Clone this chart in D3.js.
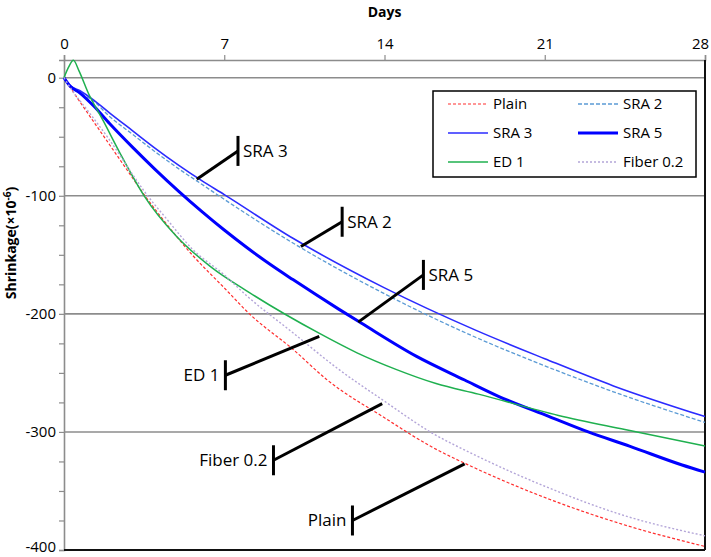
<!DOCTYPE html>
<html>
<head>
<meta charset="utf-8">
<script src="https://cdn.jsdelivr.net/npm/d3@7"></script>
<style>
  body { margin: 0; background: #fff; font-family: "Open Sans", sans-serif; }
  svg { display: block; }
  .tick-label { font-size: 15px; fill: #000; font-family: "Open Sans", sans-serif; }
  .title { font-size: 14px; font-weight: bold; fill: #000; }
  .note { font-size: 17px; fill: #000; }
  .legend text { font-size: 15px; fill: #000; }
</style>
</head>
<body>
<div id="chart"></div>
<script>
// x ticks (days) and y ticks (shrinkage)
var dayTicks = [0, 7, 14, 21, 28];
var valTicks = [0, -100, -200, -300, -400];

// series: [day, shrinkage x10^-6]
var plain = [[0,0],[0.4,-12],[1,-29],[2,-57],[3,-85],[3.5,-99],[4.2,-117],[5.6,-150],[7,-178],[8.1,-200],[10,-230],[11.5,-256],[14,-288],[16,-312],[18,-331],[21.2,-357],[24.7,-380],[28,-397]];
var sra2 = [[0,0],[0.3,-8],[0.7,-13],[1.3,-20],[2,-33],[3,-48],[4,-63],[5,-77],[6,-90],[7,-103],[10,-140],[14,-183],[18,-220],[21,-244],[24,-266],[28,-292]];
var sra3 = [[0,0],[0.3,-7],[0.7,-11],[1.3,-19],[2,-30],[3,-45],[4,-60],[5,-74],[6,-87],[7,-99],[10,-136],[14,-178],[18,-214],[21,-238],[24,-261],[28,-287]];
var sra5 = [[0,0],[0.26,-7],[0.7,-13],[1.3,-24],[2,-39],[3,-59],[4,-78],[5,-96],[6,-113],[7,-129],[8,-144],[9,-158],[10,-171],[12,-196],[13,-208],[15.4,-236],[17.5,-256],[19,-270],[21.2,-287],[22.9,-300],[24.7,-312],[27,-328],[28,-334]];
var ed1 = [[0,0],[0.2,9],[0.41,14.7],[0.65,6],[1.06,-13],[1.7,-36],[2.45,-64],[3.5,-100],[4.9,-134],[6.4,-160],[8.1,-182],[11.2,-217],[12.8,-233],[14.5,-247],[16.25,-259],[18.1,-268],[21.6,-286],[24.5,-298],[28,-312]];
var fiber = [[0,0],[0.4,-12],[1,-27],[2,-53],[3,-82],[3.5,-96],[4.5,-120],[5.6,-145],[7,-167],[8,-185],[10,-216],[12,-247],[14,-274],[16,-300],[18,-320],[21,-346],[24.5,-371],[28,-388]];

var seriesNames = ["Plain", "SRA 2", "SRA 3", "SRA 5", "ED 1", "Fiber 0.2"];
var seriesData = [plain, sra2, sra3, sra5, ed1, fiber];
var seriesColors = ["#ff2e2e", "#5b9bd5", "#2b2bff", "#0000ff", "#1fb04f", "#b3a5d8"];
var seriesWidths = [1.2, 1.3, 1.6, 3, 1.5, 1.4];
var seriesDash = ["3,2", "4,2", null, null, null, "2,2"];

// callouts: label, point on curve [day, val], bar position [day, val], side of text
var noteLabels = ["SRA 3", "SRA 2", "SRA 5", "ED 1", "Fiber 0.2", "Plain"];
var noteTips = [[5.8,-86], [10.35,-143], [12.85,-207], [11.15,-219], [13.9,-276], [17.5,-327]];
var noteBars = [[7.6,-62], [12.15,-122], [15.7,-167], [7.05,-252], [9.15,-324], [12.6,-375]];
var noteSide = ["right", "right", "right", "left", "left", "left"];

var width = 711, height = 557;
var svg = d3.select("#chart").append("svg")
    .attr("width", width)
    .attr("height", height);

var x = d3.scaleLinear().domain([0, 28]).range([64, 705]);
var y = d3.scaleLinear().domain([-400, 15]).range([550, 60]);

// horizontal grid
svg.append("g").selectAll("line").data(valTicks).enter().append("line")
    .attr("x1", x(0)).attr("x2", x(28))
    .attr("y1", function(d) { return y(d); }).attr("y2", function(d) { return y(d); })
    .attr("stroke", "#8c8c8c").attr("stroke-width", 1.6);

// top axis
var xAxisG = svg.append("g").attr("transform", "translate(0," + y(15) + ")")
    .call(d3.axisTop(x).tickValues(dayTicks).tickSize(5).tickPadding(6));
xAxisG.select(".domain").attr("stroke", "#8c8c8c").attr("stroke-width", 1.6);
xAxisG.selectAll(".tick line").attr("stroke", "#8c8c8c").attr("stroke-width", 1.2);
xAxisG.selectAll("text").attr("class", "tick-label")
    .attr("dx", function(d) { return d == 28 ? -5 : 0; });

// left axis with minor ticks
var minor = d3.range(-400, 1, 25);
var yAxisG = svg.append("g").attr("transform", "translate(" + x(0) + ",0)")
    .call(d3.axisLeft(y).tickValues(minor).tickSize(5).tickFormat(""));
yAxisG.select(".domain").attr("stroke", "#8c8c8c").attr("stroke-width", 1.6);
yAxisG.selectAll(".tick line").attr("stroke", "#8c8c8c").attr("stroke-width", 1.2);
svg.append("g").selectAll("text").data(valTicks).enter().append("text")
    .attr("class", "tick-label")
    .attr("x", x(0) - 8)
    .attr("y", function(d) { return d == -400 ? y(d) - 3 : y(d); })
    .attr("dy", "0.33em")
    .attr("text-anchor", "end")
    .text(function(d) { return d; });

// dark right / bottom frame
svg.append("line").attr("x1", x(28)).attr("x2", x(28)).attr("y1", y(15)).attr("y2", y(-400))
    .attr("stroke", "#111").attr("stroke-width", 2);
svg.append("line").attr("x1", x(0)).attr("x2", x(28)).attr("y1", y(-400)).attr("y2", y(-400))
    .attr("stroke", "#111").attr("stroke-width", 2);

// titles
svg.append("text").attr("class", "title")
    .attr("x", (x(0) + x(28)) / 2).attr("y", 17)
    .attr("text-anchor", "middle").text("Days");
var yt = svg.append("text").attr("class", "title")
    .attr("transform", "translate(16," + y(-140) + ") rotate(-90)")
    .attr("text-anchor", "middle");
yt.append("tspan").text("Shrinkage(\u00d710");
yt.append("tspan").attr("dy", -5).attr("font-size", 10).text("-6");
yt.append("tspan").attr("dy", 5).text(")");

// curves
var line = d3.line()
    .x(function(d) { return x(d[0]); })
    .y(function(d) { return y(d[1]); })
    .curve(d3.curveMonotoneX);

seriesData.forEach(function(s, i) {
    svg.append("path")
        .attr("d", line(s))
        .attr("fill", "none")
        .attr("stroke", seriesColors[i])
        .attr("stroke-width", seriesWidths[i])
        .attr("stroke-dasharray", seriesDash[i]);
});

// callouts
noteLabels.forEach(function(lab, i) {
    var tx = x(noteTips[i][0]), ty = y(noteTips[i][1]);
    var bx = x(noteBars[i][0]), by = y(noteBars[i][1]);
    svg.append("line").attr("x1", tx).attr("y1", ty).attr("x2", bx).attr("y2", by)
        .attr("stroke", "#000").attr("stroke-width", 3);
    svg.append("line").attr("x1", bx).attr("x2", bx).attr("y1", by - 15).attr("y2", by + 15)
        .attr("stroke", "#000").attr("stroke-width", 3);
    svg.append("text").attr("class", "note")
        .attr("x", noteSide[i] == "right" ? bx + 5 : bx - 6)
        .attr("y", by)
        .attr("dy", "0.35em")
        .attr("text-anchor", noteSide[i] == "right" ? "start" : "end")
        .text(lab);
});

// legend
var legend = svg.append("g").attr("class", "legend");
legend.append("rect")
    .attr("x", 433).attr("y", 91).attr("width", 263).attr("height", 86)
    .attr("fill", "#fff").attr("stroke", "#000").attr("stroke-width", 1.5);
seriesNames.forEach(function(name, i) {
    var col = i % 2, row = Math.floor(i / 2);
    var lx = 448 + col * 130, ly = 104 + row * 29;
    legend.append("line")
        .attr("x1", lx).attr("x2", lx + 40).attr("y1", ly).attr("y2", ly)
        .attr("stroke", seriesColors[i])
        .attr("stroke-width", seriesWidths[i])
        .attr("stroke-dasharray", seriesDash[i]);
    legend.append("text")
        .attr("x", lx + 45).attr("y", ly).attr("dy", "0.35em")
        .text(name);
});
</script>
</body>
</html>
